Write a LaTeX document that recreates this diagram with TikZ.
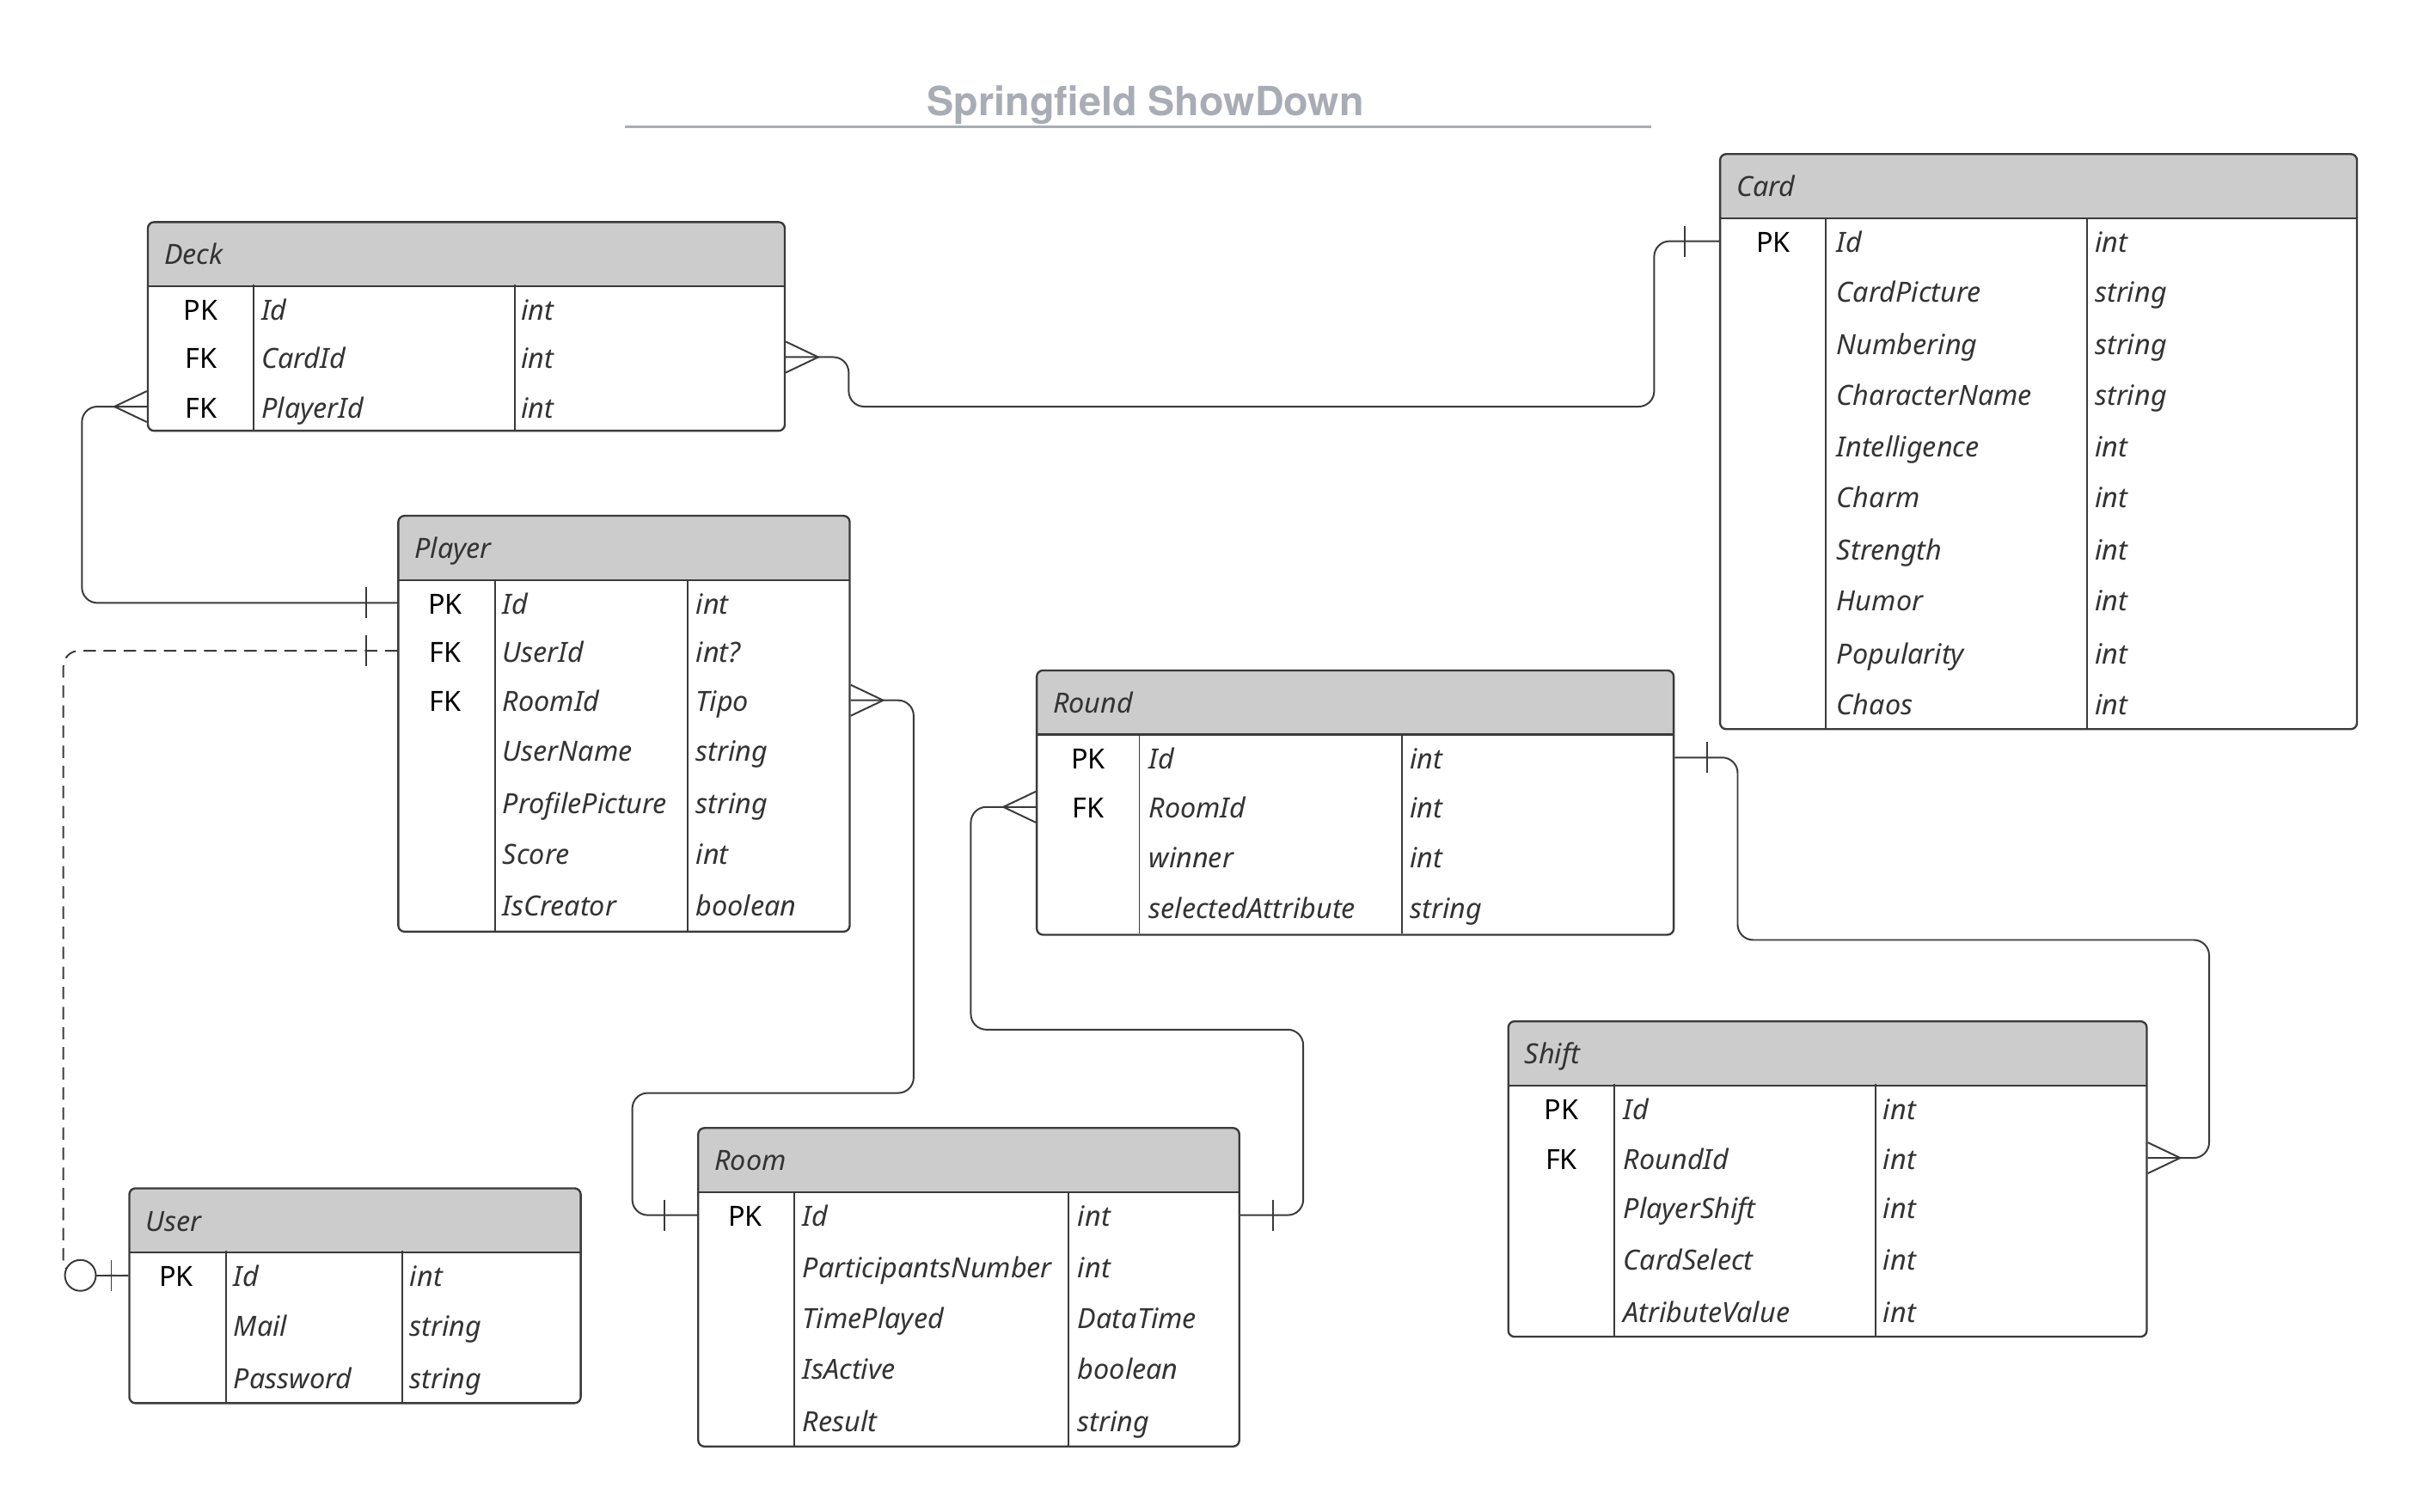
\documentclass[tikz,border=0pt]{standalone}
\usepackage{fontspec}
\setmainfont{Noto Sans}
\newfontfamily\titlefont{TeX Gyre Heros}
\usepackage{tikz}
\usetikzlibrary{arrows.meta}
\definecolor{linecol}{HTML}{3A3A3A}
\definecolor{headfill}{HTML}{CCCCCC}
\definecolor{titlecol}{HTML}{A8ADB5}
\definecolor{textcol}{HTML}{333333}
\tikzset{
	entity/.style    = {draw=linecol, line width=1.3pt, rounded corners=4pt,
		anchor=north west, inner sep=0pt,
		path picture={
			\fill[headfill, sharp corners] (path picture bounding box.north west)
				rectangle ([yshift=-41.5pt]path picture bounding box.north east);
			\draw[linecol, line width=1.3pt, sharp corners]
				([yshift=-41.5pt]path picture bounding box.north west)
				-- ([yshift=-41.5pt]path picture bounding box.north east);}},
	rowtext/.style   = {inner sep=0pt, text height=14.5pt, text depth=0pt},
	headtext/.style  = {rowtext, anchor=west, text=textcol,
		font=\fontsize{18}{21}\selectfont\itshape},
	keytext/.style   = {rowtext, anchor=center, text=black,
		font=\fontsize{18}{21}\selectfont},
	fieldtext/.style = {rowtext, anchor=west, text=textcol,
		font=\fontsize{18}{21}\selectfont\itshape},
	titletext/.style = {anchor=base, inner sep=0pt, text=titlecol,
		font=\titlefont\fontsize{26}{30}\selectfont\bfseries},
	divider/.style   = {draw=linecol, line width=1.1pt},
	link/.style      = {draw=linecol, line width=1.1pt, rounded corners=10pt},
	optlink/.style   = {link, dash pattern=on 8pt off 5pt},
	footmark/.style  = {draw=linecol, line width=1.1pt},
}

\begin{document}
\begin{tikzpicture}[x=1pt, y=-1pt]
    \useasboundingbox (0,0) rectangle (1568,978);

    % TITLE %
    \node(title) at (741,75) [titletext] {Springfield ShowDown};
    \draw[titlecol, line width=1.6pt] (404,82) -- (1068,82);

    %-- Tables creation --%
    \draw
      node(deck)   at (95,143)   [entity, minimum width=412pt, minimum height=135pt] {}
      node(card)   at (1112,99)  [entity, minimum width=412pt, minimum height=372pt] {}
      node(player) at (257,333)  [entity, minimum width=292pt, minimum height=269pt] {}
      node(round)  at (670,433)  [entity, minimum width=412pt, minimum height=171pt] {}
      node(room)   at (451,729)  [entity, minimum width=350pt, minimum height=206pt] {}
      node(user)   at (83,768)   [entity, minimum width=292pt, minimum height=139pt] {}
      node(shift)  at (975,660)  [entity, minimum width=413pt, minimum height=204pt] {}
    ;
    % COLUMN DIVIDERS %
    \draw[divider] (164,184) -- (164,278)   (333,184) -- (333,278);
    \draw[divider] (1181,141) -- (1181,471) (1350,141) -- (1350,471);
    \draw[divider] (320,375) -- (320,602)   (445,375) -- (445,602);
    \draw[divider] (737,475) -- (737,604)   (907,475) -- (907,604);
    \draw[divider] (514,771) -- (514,935)   (691,771) -- (691,935);
    \draw[divider] (146,809) -- (146,907)   (260,809) -- (260,907);
    \draw[divider] (1044,701) -- (1044,864) (1213,701) -- (1213,864);

    %-- Table texts --%
    \draw
      % DECK %
      node(deckHead)   at (106,164) [headtext] {Deck}
      node(deckKey1)   at (130,200) [keytext] {PK}
      node(deckKey2)   at (130,231) [keytext] {FK}
      node(deckKey3)   at (130,263) [keytext] {FK}
      node(deckField1) at (169,200) [fieldtext] {Id}
      node(deckField2) at (169,231) [fieldtext] {CardId}
      node(deckField3) at (169,263) [fieldtext] {PlayerId}
      node(deckType1)  at (337,200) [fieldtext] {int}
      node(deckType2)  at (337,231) [fieldtext] {int}
      node(deckType3)  at (337,263) [fieldtext] {int}

      % CARD %
      node(cardHead)    at (1123,120) [headtext] {Card}
      node(cardKey1)    at (1147,156) [keytext] {PK}
      node(cardField1)  at (1188,156) [fieldtext] {Id}
      node(cardField2)  at (1188,188) [fieldtext] {CardPicture}
      node(cardField3)  at (1188,222) [fieldtext] {Numbering}
      node(cardField4)  at (1188,255) [fieldtext] {CharacterName}
      node(cardField5)  at (1188,288) [fieldtext] {Intelligence}
      node(cardField6)  at (1188,321) [fieldtext] {Charm}
      node(cardField7)  at (1188,355) [fieldtext] {Strength}
      node(cardField8)  at (1188,388) [fieldtext] {Humor}
      node(cardField9)  at (1188,422) [fieldtext] {Popularity}
      node(cardField10) at (1188,455) [fieldtext] {Chaos}
      node(cardType1)   at (1355,156) [fieldtext] {int}
      node(cardType2)   at (1355,188) [fieldtext] {string}
      node(cardType3)   at (1355,222) [fieldtext] {string}
      node(cardType4)   at (1355,255) [fieldtext] {string}
      node(cardType5)   at (1355,288) [fieldtext] {int}
      node(cardType6)   at (1355,321) [fieldtext] {int}
      node(cardType7)   at (1355,355) [fieldtext] {int}
      node(cardType8)   at (1355,388) [fieldtext] {int}
      node(cardType9)   at (1355,422) [fieldtext] {int}
      node(cardType10)  at (1355,455) [fieldtext] {int}

      % PLAYER %
      node(playerHead)   at (268,354) [headtext] {Player}
      node(playerKey1)   at (288,390) [keytext] {PK}
      node(playerKey2)   at (288,421) [keytext] {FK}
      node(playerKey3)   at (288,453) [keytext] {FK}
      node(playerField1) at (325,390) [fieldtext] {Id}
      node(playerField2) at (325,421) [fieldtext] {UserId}
      node(playerField3) at (325,453) [fieldtext] {RoomId}
      node(playerField4) at (325,485) [fieldtext] {UserName}
      node(playerField5) at (325,519) [fieldtext] {ProfilePicture}
      node(playerField6) at (325,552) [fieldtext] {Score}
      node(playerField7) at (325,585) [fieldtext] {IsCreator}
      node(playerType1)  at (450,390) [fieldtext] {int}
      node(playerType2)  at (450,421) [fieldtext] {int?}
      node(playerType3)  at (450,453) [fieldtext] {Tipo}
      node(playerType4)  at (450,485) [fieldtext] {string}
      node(playerType5)  at (450,519) [fieldtext] {string}
      node(playerType6)  at (450,552) [fieldtext] {int}
      node(playerType7)  at (450,585) [fieldtext] {boolean}

      % ROUND %
      node(roundHead)   at (681,454) [headtext] {Round}
      node(roundKey1)   at (704,490) [keytext] {PK}
      node(roundKey2)   at (704,522) [keytext] {FK}
      node(roundField1) at (743,490) [fieldtext] {Id}
      node(roundField2) at (743,522) [fieldtext] {RoomId}
      node(roundField3) at (743,554) [fieldtext] {winner}
      node(roundField4) at (743,587) [fieldtext] {selectedAttribute}
      node(roundType1)  at (912,490) [fieldtext] {int}
      node(roundType2)  at (912,522) [fieldtext] {int}
      node(roundType3)  at (912,554) [fieldtext] {int}
      node(roundType4)  at (912,587) [fieldtext] {string}

      % ROOM %
      node(roomHead)   at (462,750) [headtext] {Room}
      node(roomKey1)   at (482,786) [keytext] {PK}
      node(roomField1) at (519,786) [fieldtext] {Id}
      node(roomField2) at (519,819) [fieldtext] {ParticipantsNumber}
      node(roomField3) at (519,852) [fieldtext] {TimePlayed}
      node(roomField4) at (519,885) [fieldtext] {IsActive}
      node(roomField5) at (519,919) [fieldtext] {Result}
      node(roomType1)  at (697,786) [fieldtext] {int}
      node(roomType2)  at (697,819) [fieldtext] {int}
      node(roomType3)  at (697,852) [fieldtext] {DataTime}
      node(roomType4)  at (697,885) [fieldtext] {boolean}
      node(roomType5)  at (697,919) [fieldtext] {string}

      % USER %
      node(userHead)   at (94,789) [headtext] {User}
      node(userKey1)   at (114,825) [keytext] {PK}
      node(userField1) at (151,825) [fieldtext] {Id}
      node(userField2) at (151,857) [fieldtext] {Mail}
      node(userField3) at (151,891) [fieldtext] {Password}
      node(userType1)  at (265,825) [fieldtext] {int}
      node(userType2)  at (265,857) [fieldtext] {string}
      node(userType3)  at (265,891) [fieldtext] {string}

      % SHIFT %
      node(shiftHead)   at (986,681) [headtext] {Shift}
      node(shiftKey1)   at (1010,717) [keytext] {PK}
      node(shiftKey2)   at (1010,749) [keytext] {FK}
      node(shiftField1) at (1050,717) [fieldtext] {Id}
      node(shiftField2) at (1050,749) [fieldtext] {RoundId}
      node(shiftField3) at (1050,781) [fieldtext] {PlayerShift}
      node(shiftField4) at (1050,814) [fieldtext] {CardSelect}
      node(shiftField5) at (1050,848) [fieldtext] {AtributeValue}
      node(shiftType1)  at (1218,717) [fieldtext] {int}
      node(shiftType2)  at (1218,749) [fieldtext] {int}
      node(shiftType3)  at (1218,781) [fieldtext] {int}
      node(shiftType4)  at (1218,814) [fieldtext] {int}
      node(shiftType5)  at (1218,848) [fieldtext] {int}
    ;

    %-- Table linking --%
    % DECK - CARD %
    \draw[link] (deck.east |- deckField2) -- (549,231) -- (549,263)
                -- (1070,263) -- (1070,156) -- (card.west |- cardField1);
    % DECK - PLAYER %
    \draw[link] (deck.west |- deckField3) -- (53,263) -- (53,390)
                -- (player.west |- playerField1);
    % PLAYER - USER %
    \draw[optlink] (player.west |- playerField2) -- (41,421) -- (41,825)
                -- (user.west |- userField1);
    % PLAYER - ROOM %
    \draw[link] (player.east |- playerField3) -- (591,453) -- (591,707)
                -- (409,707) -- (409,786) -- (room.west |- roomField1);
    % ROUND - ROOM %
    \draw[link] (round.west |- roundField2) -- (628,522) -- (628,666)
                -- (843,666) -- (843,786) -- (room.east |- roomField1);
    % ROUND - SHIFT %
    \draw[link] (round.east |- roundField1) -- (1124,490) -- (1124,608)
                -- (1429,608) -- (1429,749) -- (shift.east |- shiftField2);

    %-- Cardinality marks --%
    % many %
    \draw[footmark] (deck.east |- deckField2)     ++(0,-10) -- ++(21,10) -- ++(-21,10);
    \draw[footmark] (deck.west |- deckField3)     ++(0,-10) -- ++(-21,10) -- ++(21,10);
    \draw[footmark] (player.east |- playerField3) ++(0,-10) -- ++(21,10) -- ++(-21,10);
    \draw[footmark] (round.west |- roundField2)   ++(0,-10) -- ++(-21,10) -- ++(21,10);
    \draw[footmark] (shift.east |- shiftField2)   ++(0,-10) -- ++(21,10) -- ++(-21,10);
    % one %
    \draw[footmark] (card.west |- cardField1)     ++(-22,-10) -- ++(0,20);
    \draw[footmark] (player.west |- playerField1) ++(-20,-10) -- ++(0,20);
    \draw[footmark] (player.west |- playerField2) ++(-20,-10) -- ++(0,20);
    \draw[footmark] (room.west |- roomField1)     ++(-21,-10) -- ++(0,20);
    \draw[footmark] (room.east |- roomField1)     ++(21,-10) -- ++(0,20);
    \draw[footmark] (round.east |- roundField1)   ++(21,-10) -- ++(0,20);
    % zero or one %
    \draw[footmark] (user.west |- userField1) ++(-21,0) -- (user.west |- userField1);
    \draw[footmark] (user.west |- userField1) ++(-11,-10) -- ++(0,20);
    \draw[footmark, fill=white] (user.west |- userField1) ++(-31,0) circle (10pt);

\end{tikzpicture}
\end{document}
